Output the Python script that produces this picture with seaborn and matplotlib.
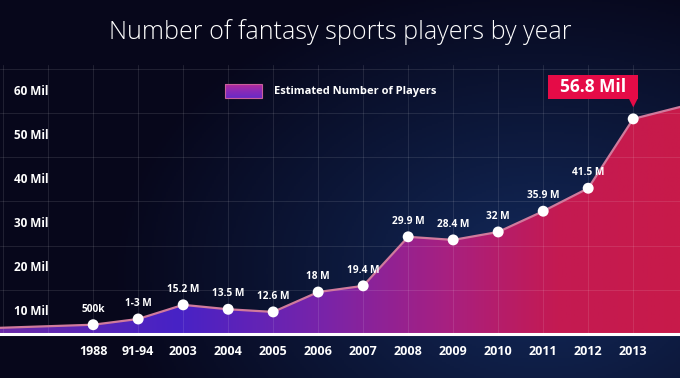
import numpy as np
import pandas as pd
import matplotlib
matplotlib.use("Agg")
import matplotlib.pyplot as plt
import matplotlib.transforms as mtransforms
from matplotlib.colors import LinearSegmentedColormap, to_rgb
from matplotlib.patches import Patch, Rectangle
from matplotlib.legend_handler import HandlerBase
from matplotlib.image import BboxImage
from matplotlib.transforms import Bbox, TransformedBbox
import seaborn as sns

# ---------------- data ----------------
years = ["1988", "91-94", "2003", "2004", "2005", "2006", "2007",
         "2008", "2009", "2010", "2011", "2012", "2013"]
players = [7.1, 8.4, 11.6, 10.6, 10.0, 14.5, 15.9,
           27.0, 26.3, 28.1, 32.8, 38.0, 53.7]          # plotted height (Mil)
point_labels = ["500k", "1-3 M", "15.2 M", "13.5 M", "12.6 M", "18 M", "19.4 M",
                "29.9 M", "28.4 M", "32 M", "35.9 M", "41.5 M"]
callout_label = "56.8 Mil"
lead_in = 6.4     # trend value at left edge of the chart
lead_out = 56.4   # trend value at right edge of the chart
y_ticks = [10, 20, 30, 40, 50, 60]
y_tick_labels = ["10 Mil", "20 Mil", "30 Mil", "40 Mil", "50 Mil", "60 Mil"]
title = "Number of fantasy sports players by year"
series_name = "Estimated Number of Players"

# ---------------- style ----------------
sns.set_style("dark")
plt.rcParams["font.family"] = ["Open Sans", "DejaVu Sans"]

W, H = 680, 378
fig = plt.figure(figsize=(W / 100, H / 100), dpi=100)
fig.patch.set_facecolor("#07071b")

# background radial glow
bg = fig.add_axes([0, 0, 1, 1], zorder=0)
yy, xx = np.mgrid[0:H:2, 0:W:2]
d = np.sqrt(((xx - 540) / 430.0) ** 2 + ((yy - 270) / 300.0) ** 2)
t = np.clip(d, 0, 1) ** 0.9
c_in = np.array(to_rgb("#132b5e"))
c_out = np.array(to_rgb("#07071b"))
img = c_in[None, None, :] * (1 - t[..., None]) + c_out[None, None, :] * t[..., None]
bg.imshow(img, extent=[0, 1, 0, 1], aspect="auto", origin="upper")
bg.axis("off")

# main axes
ax_bottom = 1 - 334 / H
ax_top = 1 - 65 / H
ax = fig.add_axes([0, ax_bottom, 1, ax_top - ax_bottom], zorder=1)
ax.set_facecolor("none")

pos = list(range(len(years)))
xlim = (-2.07, 13.04)
ylim = (5.0, 65.9)

df = pd.DataFrame({"pos": pos, "year": years, "players": players})
df_line = pd.DataFrame({"pos": [xlim[0]] + pos + [xlim[1]],
                        "players": [lead_in] + players + [lead_out]})

# gradient area
cmap = LinearSegmentedColormap.from_list(
    "area",
    [(0.0, "#6a2aa8"), (0.26, "#4722c6"), (0.48, "#7a24a8"),
     (0.66, "#a82080"), (0.82, "#c41a52"), (1.0, "#c81a4a")])
poly = ax.fill_between(df_line["pos"], ylim[0], df_line["players"],
                       color="none", lw=0)
grad = np.linspace(0, 1, 512).reshape(1, -1)
im = ax.imshow(grad, extent=[xlim[0], xlim[1], ylim[0], ylim[1]],
               aspect="auto", cmap=cmap, zorder=1, origin="lower")
im.set_clip_path(poly.get_paths()[0], transform=ax.transData)

# line and points
sns.lineplot(data=df_line, x="pos", y="players", ax=ax, color="#d07a9c",
             lw=1.6, zorder=3, sort=False)
sns.scatterplot(data=df, x="pos", y="players", ax=ax, s=62, color="white",
                edgecolor="none", zorder=4, legend=False)

ax.set_xlim(*xlim)
ax.set_ylim(*ylim)

# grid
ax.set_yticks(y_ticks)
ax.set_yticks(np.arange(15, 70, 10), minor=True)
ax.set_xticks(pos, labels=years)
ax.set_xticks([-2, -1], minor=True)
ax.set_axisbelow(False)
ax.grid(False)
ax.yaxis.grid(True, which="minor", color="white", alpha=0.1, lw=0.8)
ax.xaxis.grid(True, which="both", color="white", alpha=0.1, lw=0.8)

ax.tick_params(axis="y", which="major", direction="in", length=5, width=2,
               color="white", labelleft=False)
ax.tick_params(axis="y", which="minor", length=0)
ax.tick_params(axis="x", which="both", length=0, pad=8, labelcolor="white",
               labelsize=9)
for lab in ax.get_xticklabels():
    lab.set_fontweight("bold")

for s in ["top", "right", "left"]:
    ax.spines[s].set_visible(False)
ax.spines["bottom"].set_color("white")
ax.spines["bottom"].set_linewidth(2.2)
ax.spines["bottom"].set_zorder(5)
ax.set_xlabel("")
ax.set_ylabel("")

# y tick labels inside the plot
trans = mtransforms.blended_transform_factory(ax.transAxes, ax.transData)
for v, lab in zip(y_ticks, y_tick_labels):
    ax.text(14 / W, v, lab, transform=trans, ha="left", va="center",
            color="white", fontsize=8.5, fontweight="bold", zorder=6)

# data labels
for i, lab in enumerate(point_labels):
    ax.annotate(lab, xy=(pos[i], players[i]), xytext=(0, 11),
                textcoords="offset points", ha="center", va="center",
                color="white", fontsize=7.3, fontweight="bold", zorder=6)

# callout
ax.annotate("  " + callout_label + "  ", xy=(pos[-1], players[-1]),
            xytext=(-28.8, 23.0),
            textcoords="offset points", ha="center", va="center",
            color="white", fontsize=12.5, fontweight="bold", zorder=7,
            bbox=dict(boxstyle="square,pad=0.18", fc="#e50b47", ec="none"))
ax.annotate("\u25BC", xy=(pos[-1], players[-1]), xytext=(0, 11.5),
            textcoords="offset points", ha="center", va="center",
            color="#e50b47", fontsize=8, family="DejaVu Sans", zorder=7)


# legend with gradient swatch
class GradientHandler(HandlerBase):
    def create_artists(self, legend, orig_handle, xdescent, ydescent,
                       width, height, fontsize, trans):
        bb = TransformedBbox(Bbox.from_bounds(-xdescent, -ydescent, width, height), trans)
        sw_cmap = LinearSegmentedColormap.from_list("sw", ["#6a2ac6", "#8a2ab6", "#b42a9c"])
        bim = BboxImage(bb, cmap=sw_cmap, interpolation="bilinear", origin="lower")
        bim.set_data(np.linspace(0, 1, 32).reshape(-1, 1))
        rect = Rectangle((-xdescent, -ydescent), width, height, fc="none",
                         ec="#c8609c", lw=0.8, transform=trans)
        return [bim, rect]


handle = Patch(facecolor="#8a2ab8", edgecolor="#c05a9a", lw=0.8, label=series_name)
leg = ax.legend(handles=[handle], loc="upper left",
                bbox_to_anchor=(225 / W, (334 - 84) / 269), frameon=False,
                handlelength=3.3, handleheight=1.5, handletextpad=1.15,
                borderpad=0, borderaxespad=0,
                handler_map={Patch: GradientHandler()},
                prop={"weight": "bold", "size": 8})
for txt in leg.get_texts():
    txt.set_color("white")

# title
fig.text(0.5, 1 - 32 / H, title, ha="center", va="center", fontsize=18,
         color="white", fontweight="light")

fig.savefig("out.png", dpi=100, facecolor=fig.get_facecolor())
